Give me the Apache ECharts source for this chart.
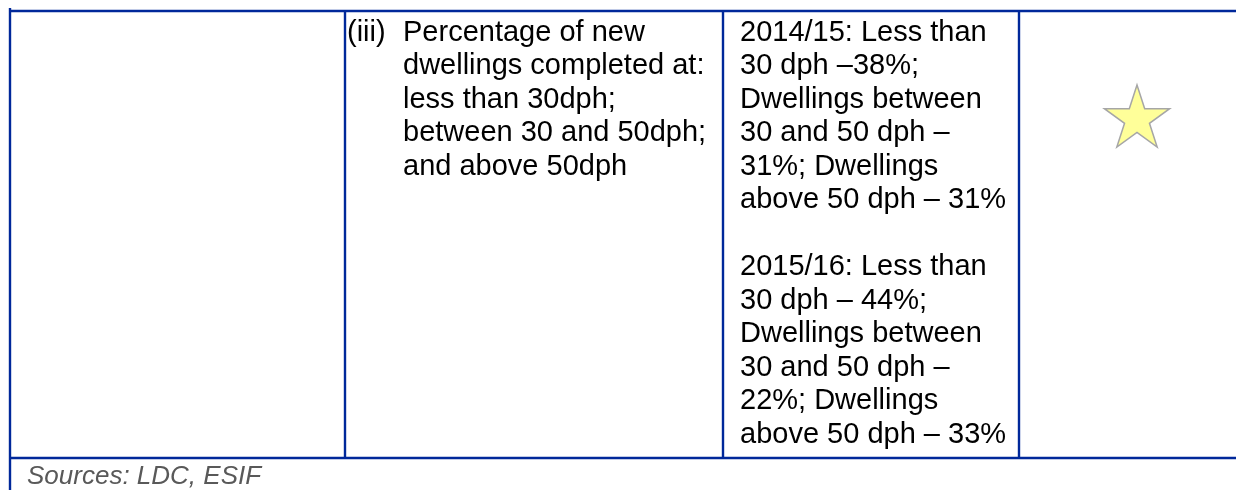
<!DOCTYPE html>
<html>
<head>
<meta charset="utf-8">
<script src="https://cdn.jsdelivr.net/npm/echarts@6/dist/echarts.min.js"></script>
<style>
  html, body { margin: 0; padding: 0; background: #fff; }
  #main { width: 1236px; height: 490px; }
</style>
</head>
<body>
<div id="main"></div>
<script>
// table contents
var rowLabel = '(iii)';
var indicatorLines = [
    'Percentage of new',
    'dwellings completed at:',
    'less than 30dph;',
    'between 30 and 50dph;',
    'and above 50dph'
];
var result1415 = [
    '2014/15: Less than',
    '30 dph \u201338%;',
    'Dwellings between',
    '30 and 50 dph \u2013',
    '31%; Dwellings',
    'above 50 dph \u2013 31%'
];
var result1516 = [
    '2015/16: Less than',
    '30 dph \u2013 44%;',
    'Dwellings between',
    '30 and 50 dph \u2013',
    '22%; Dwellings',
    'above 50 dph \u2013 33%'
];
var ratingStars = 1;
var sourceText = 'Sources: LDC, ESIF';

window.addEventListener('load', function () {
    var myChart = echarts.init(document.getElementById('main'));

    var border = '#00289a';
    var font = '"Liberation Sans", Arial, sans-serif';
    var lh = 33.5;

    // table lines
    var top = 11, bottom = 458;
    var cols = [10, 345, 723, 1019];
    var els = [];
    function rule(x1, y1, x2, y2) {
        return { type: 'line', shape: { x1: x1, y1: y1, x2: x2, y2: y2 }, style: { stroke: border, lineWidth: 2.4 } };
    }
    els.push(rule(10, top, 1236, top));
    els.push(rule(10, bottom, 1236, bottom));
    els.push(rule(cols[0], 8, cols[0], 490));
    for (var i = 1; i < cols.length; i++) {
        els.push(rule(cols[i], top, cols[i], bottom));
    }

    function cellText(x, y, str) {
        return {
            type: 'text', x: x, y: y,
            style: {
                text: str, fill: '#000',
                fontSize: 29, fontFamily: font, lineHeight: lh,
                textVerticalAlign: 'top', verticalAlign: 'top'
            }
        };
    }

    els.push(cellText(347, 16, rowLabel));
    els.push(cellText(403, 16, indicatorLines.join('\n')));
    els.push(cellText(740, 16, result1415.concat(['']).concat(result1516).join('\n')));

    // rating star(s) in the last cell
    var R = 34.3, r = R * 0.382;
    for (var s = 0; s < ratingStars; s++) {
        var cx = 1137 + s * 75, cy = 119.3;
        var pts = [];
        for (var k = 0; k < 10; k++) {
            var ang = -Math.PI / 2 + k * Math.PI / 5;
            var rad = k % 2 === 0 ? R : r;
            pts.push([cx + rad * Math.cos(ang), cy + rad * Math.sin(ang)]);
        }
        els.push({ type: 'polygon', shape: { points: pts }, style: { fill: '#ffff99', stroke: '#a6a6a6', lineWidth: 1.5 } });
    }

    // source note
    els.push({
        type: 'text', x: 27, y: 477,
        style: {
            text: sourceText, fill: '#595959', fontSize: 26, fontStyle: 'italic',
            fontFamily: font, verticalAlign: 'middle', textVerticalAlign: 'middle'
        }
    });

    myChart.setOption({
        backgroundColor: '#fff',
        animation: false,
        graphic: { elements: els }
    });
});
</script>
</body>
</html>
